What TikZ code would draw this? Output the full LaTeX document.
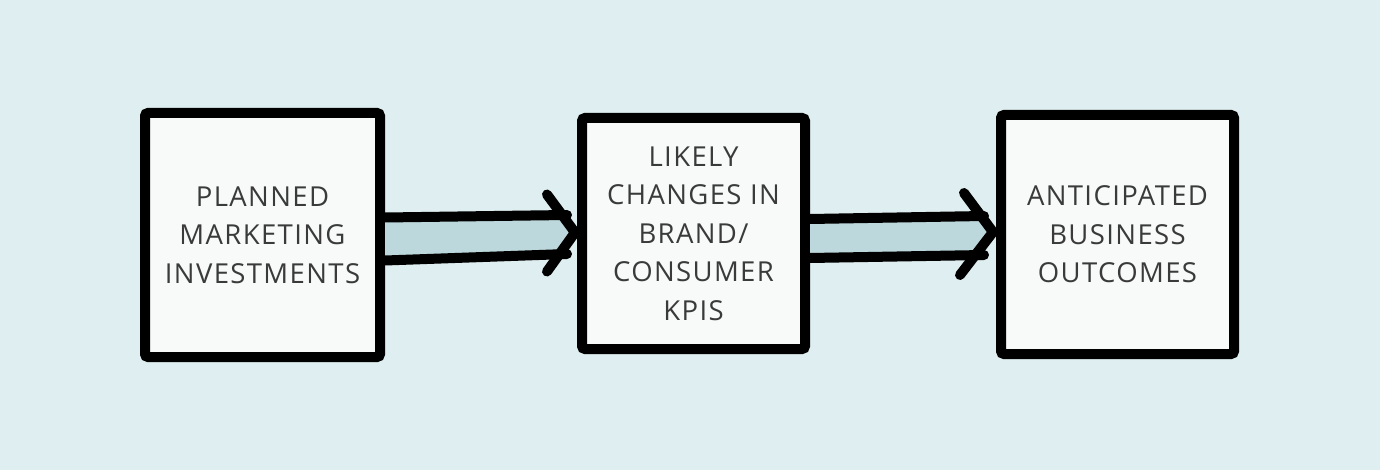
\documentclass[tikz,border=0pt]{standalone}
\usepackage{fontspec}
\setmainfont{Open Sans}
\newfontfamily\handfont[LetterSpace=5]{Open Sans}
\usetikzlibrary{calc}
\definecolor{bgc}{HTML}{DFEEF0}
\definecolor{boxc}{HTML}{F8FAFA}
\definecolor{arrc}{HTML}{BCD8DC}
\definecolor{txtc}{HTML}{3A3A3A}
\begin{document}
\begin{tikzpicture}[x=1pt,y=-1pt,
  stagebox/.style={draw=black, line width=10pt, fill=boxc, rounded corners=3pt,
    inner sep=0pt, align=center, text=txtc,
    font=\handfont\fontsize{27.5pt}{38.5pt}\selectfont},
  arrline/.style={draw=black, line width=10pt, line cap=round, line join=round},
  arrbody/.style={fill=arrc}]
\fill[bgc] (0,0) rectangle (1380,470);
\useasboundingbox (0,0) rectangle (1380,470);

\node[stagebox, minimum width=235pt, minimum height=244pt] (b1) at (262.5,235)
  {PLANNED\\MARKETING\\INVESTMENTS};
\node[stagebox, minimum width=223pt, minimum height=231pt] (b2) at (693.5,233.5)
  {LIKELY\\CHANGES IN\\BRAND/\\CONSUMER\\KPIS};
\node[stagebox, minimum width=233pt, minimum height=239pt] (b3) at (1117.5,234.5)
  {ANTICIPATED\\BUSINESS\\OUTCOMES};

% arrow 1
\path (b1.east) ++(0,-17.5) coordinate (a1ts);
\path (b1.east) ++(0,25.5) coordinate (a1bs);
\path (b2.west) ++(-10,-18.5) coordinate (a1te);
\path (b2.west) ++(-10,20.5) coordinate (a1be);
\path (b2.west) ++(-2,-1) coordinate (a1tip);
\path (a1tip) ++(-28,-38) coordinate (a1u);
\path (a1tip) ++(-28,39) coordinate (a1d);
\fill[arrbody] (a1ts) -- (a1te) -- (a1tip) -- (a1be) -- (a1bs) -- cycle;
\draw[arrline] (a1ts) -- (a1te);
\draw[arrline] (a1bs) -- (a1be);
\draw[arrline] (a1u) -- (a1tip) -- (a1d);

% arrow 2
\path (b2.east) ++(0,-14.5) coordinate (a2ts);
\path (b2.east) ++(0,24.5) coordinate (a2bs);
\path (b3.west) ++(-12,-18.5) coordinate (a2te);
\path (b3.west) ++(-12,20.5) coordinate (a2be);
\path (b3.west) ++(-3,-2.5) coordinate (a2tip);
\path (a2tip) ++(-29,-39) coordinate (a2u);
\path (a2tip) ++(-33,43) coordinate (a2d);
\fill[arrbody] (a2ts) -- (a2te) -- (a2tip) -- (a2be) -- (a2bs) -- cycle;
\draw[arrline] (a2ts) -- (a2te);
\draw[arrline] (a2bs) -- (a2be);
\draw[arrline] (a2u) -- (a2tip) -- (a2d);
\end{tikzpicture}
\end{document}
